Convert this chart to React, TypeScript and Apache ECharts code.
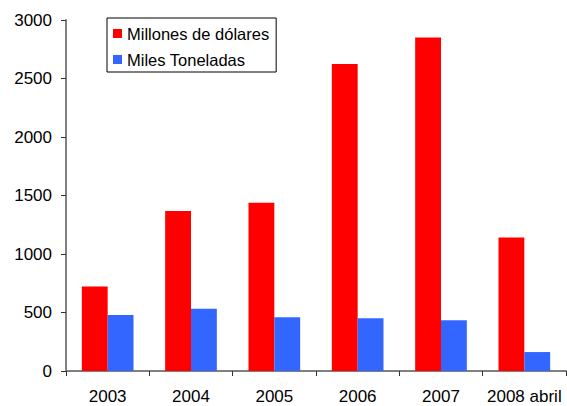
import React, { useEffect, useRef } from "react";
import * as echarts from "echarts";

const categories = ["2003", "2004", "2005", "2006", "2007", "2008 abril"];
const millonesDolares = [722, 1368, 1438, 2625, 2850, 1140];
const milesToneladas = [479, 531, 460, 451, 433, 162];
const yTicks = { min: 0, max: 3000, interval: 500 };

const FONT = "'Liberation Sans', Arial, sans-serif";

export default function App() {
  const ref = useRef<HTMLDivElement>(null);
  useEffect(() => {
    if (!ref.current) return;
    const chart = echarts.init(ref.current, undefined, { renderer: "svg" });
    chart.setOption({
      animation: false,
      backgroundColor: "#ffffff",
      textStyle: { fontFamily: FONT, color: "#000" },
      grid: { left: 66, right: 1, top: 20, bottom: 35, containLabel: false },
      legend: {
        orient: "vertical",
        left: 107,
        top: 18,
        padding: [7, 7, 4, 6],
        borderColor: "#000",
        borderWidth: 1,
        itemWidth: 9,
        itemHeight: 9,
        itemGap: 9,
        icon: "rect",
        textStyle: { fontFamily: FONT, fontSize: 16.5, color: "#000" },
        data: ["Millones de dólares", "Miles Toneladas"],
      },
      xAxis: {
        type: "category",
        data: categories,
        boundaryGap: true,
        axisLine: { lineStyle: { color: "#808080", width: 2 } },
        axisTick: { show: true, alignWithLabel: false, length: 5, lineStyle: { color: "#333", width: 1 } },
        axisLabel: { fontFamily: FONT, fontSize: 17, color: "#000", margin: 17, interval: 0 },
        splitLine: { show: false },
      },
      yAxis: {
        type: "value",
        min: yTicks.min,
        max: yTicks.max,
        interval: yTicks.interval,
        axisLine: { show: true, lineStyle: { color: "#808080", width: 2 } },
        axisTick: { show: true, length: 5, lineStyle: { color: "#333", width: 1 } },
        axisLabel: {
          fontFamily: FONT,
          fontSize: 17,
          color: "#000",
          margin: 14,
          formatter: (v: number) => String(v),
        },
        splitLine: { show: false },
      },
      series: [
        {
          name: "Millones de dólares",
          type: "bar",
          data: millonesDolares,
          itemStyle: { color: "#FF0000" },
          barGap: "0%",
          barCategoryGap: "38%",
        },
        {
          name: "Miles Toneladas",
          type: "bar",
          data: milesToneladas,
          itemStyle: { color: "#3366FF" },
          barGap: "0%",
          barCategoryGap: "38%",
        },
      ],
    });
    return () => chart.dispose();
  }, []);
  return <div ref={ref} style={{ width: 567, height: 406, position: "absolute", left: 0, top: 0 }} />;
}
